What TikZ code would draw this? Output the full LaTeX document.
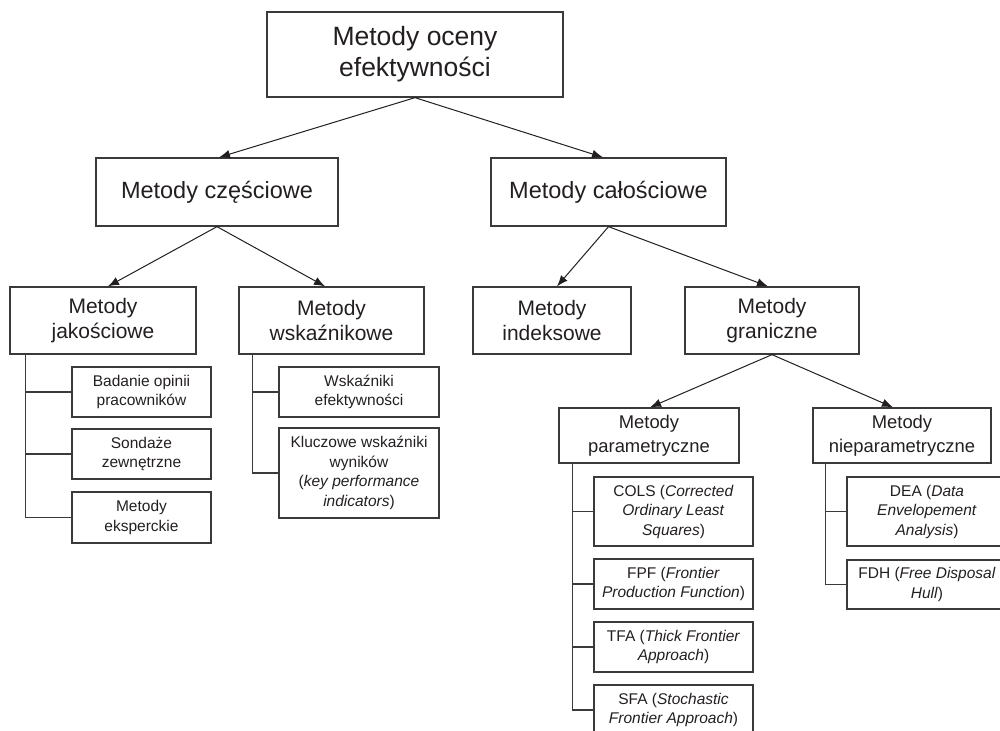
\documentclass[tikz,border=0pt]{standalone}
\usepackage{fontspec}
\setmainfont{Liberation Sans}
\usetikzlibrary{arrows.meta}
\definecolor{ink}{HTML}{231F20}
\definecolor{line}{HTML}{3A3A3A}
\begin{document}
\begin{tikzpicture}[x=1pt,y=-1pt,
  box/.style={draw=line, line width=1.3pt, text=ink, align=center, inner sep=0pt, anchor=center},
  fA/.style={font=\fontsize{26.5}{31}\selectfont},
  fB/.style={font=\fontsize{23.5}{28}\selectfont},
  fC/.style={font=\fontsize{21}{25}\selectfont},
  fD/.style={font=\fontsize{18.4}{24}\selectfont},
  fE/.style={font=\fontsize{15.5}{19.5}\selectfont},
  arr/.style={draw=ink, line width=1pt, -{Latex[length=11pt,width=8.5pt]}},
  tree/.style={draw=line, line width=1.3pt}]
\useasboundingbox (0,0) rectangle (1000,730);
\clip (0,0) rectangle (1000,730);

% level 1
\node[box,fA,minimum width=296pt,minimum height=85pt] (top) at (415,54.5) {Metody oceny\\efektywności};
% level 2
\node[box,fB,minimum width=242pt,minimum height=68pt] (cz) at (217,192) {Metody częściowe};
\node[box,fB,minimum width=235pt,minimum height=68pt] (cal) at (608.5,192) {Metody całościowe};
% level 3
\node[box,fC,minimum width=186pt,minimum height=67pt] (jak) at (103,320.5) {Metody\\jakościowe};
\node[box,fC,minimum width=185pt,minimum height=67pt] (wsk) at (331.5,320.5) {Metody\\wskaźnikowe};
\node[box,fC,minimum width=158pt,minimum height=67pt] (ind) at (552,320.5) {Metody\\indeksowe};
\node[box,fC,minimum width=174pt,minimum height=67pt] (gra) at (772,320.5) {Metody\\graniczne};
% level 4
\node[box,fD,minimum width=180pt,minimum height=55pt] (par) at (649,435.5) {Metody\\parametryczne};
\node[box,fD,minimum width=178pt,minimum height=55pt] (npar) at (902,435.5) {Metody\\nieparametryczne};

% leaves under jakosciowe
\node[box,fE,minimum width=139pt,minimum height=50pt] (bad) at (141.5,392) {Badanie opinii\\pracowników};
\node[box,fE,minimum width=139pt,minimum height=50pt] (son) at (141.5,454) {Sondaże\\zewnętrzne};
\node[box,fE,minimum width=139pt,minimum height=51pt] (eks) at (141.5,517.5) {Metody\\eksperckie};
% leaves under wskaznikowe
\node[box,fE,minimum width=160pt,minimum height=50pt] (wef) at (359,392) {Wskaźniki\\efektywności};
\node[box,fE,minimum width=160pt,minimum height=90pt] (kpi) at (359,473) {Kluczowe wskaźniki\\wyników\\(\textit{key performance}\\\textit{indicators})};
% leaves under parametryczne
\node[box,fE,minimum width=159pt,minimum height=69pt] (cols) at (673.5,511.5) {COLS (\textit{Corrected}\\\textit{Ordinary Least}\\\textit{Squares})};
\node[box,fE,minimum width=159pt,minimum height=50pt] (fpf) at (673.5,584) {FPF (\textit{Frontier}\\\textit{Production Function})};
\node[box,fE,minimum width=159pt,minimum height=50pt] (tfa) at (673.5,647) {TFA (\textit{Thick Frontier}\\\textit{Approach})};
\node[box,fE,minimum width=159pt,minimum height=50pt] (sfa) at (673.5,710) {SFA (\textit{Stochastic}\\\textit{Frontier Approach})};
% leaves under nieparametryczne
\node[box,fE,minimum width=160pt,minimum height=69pt] (dea) at (927,511.5) {DEA (\textit{Data}\\\textit{Envelopement}\\\textit{Analysis})};
\node[box,fE,minimum width=160pt,minimum height=49pt] (fdh) at (927,584.5) {FDH (\textit{Free Disposal}\\\textit{Hull})};

% arrows
\draw[arr] (top.south) -- ([xshift=2pt]cz.north);
\draw[arr] (top.south) -- ([xshift=-5.5pt]cal.north);
\draw[arr] (cz.south) -- ([xshift=5pt]jak.north);
\draw[arr] (cz.south) -- ([xshift=-6.5pt]wsk.north);
\draw[arr] (cal.south) -- ([xshift=5pt]ind.north);
\draw[arr] (cal.south) -- ([xshift=-4pt]gra.north);
\draw[arr] (gra.south) -- ([xshift=1pt]par.north);
\draw[arr] (gra.south) -- ([xshift=-9pt]npar.north);

% tree brackets
\foreach \c in {bad,son,eks} \draw[tree] ([xshift=16pt]jak.south west) |- (\c.west);
\foreach \c in {wef,kpi} \draw[tree] ([xshift=14pt]wsk.south west) |- (\c.west);
\foreach \c in {cols,fpf,tfa,sfa} \draw[tree] ([xshift=14pt]par.south west) |- (\c.west);
\foreach \c in {dea,fdh} \draw[tree] ([xshift=13pt]npar.south west) |- (\c.west);
\end{tikzpicture}
\end{document}
